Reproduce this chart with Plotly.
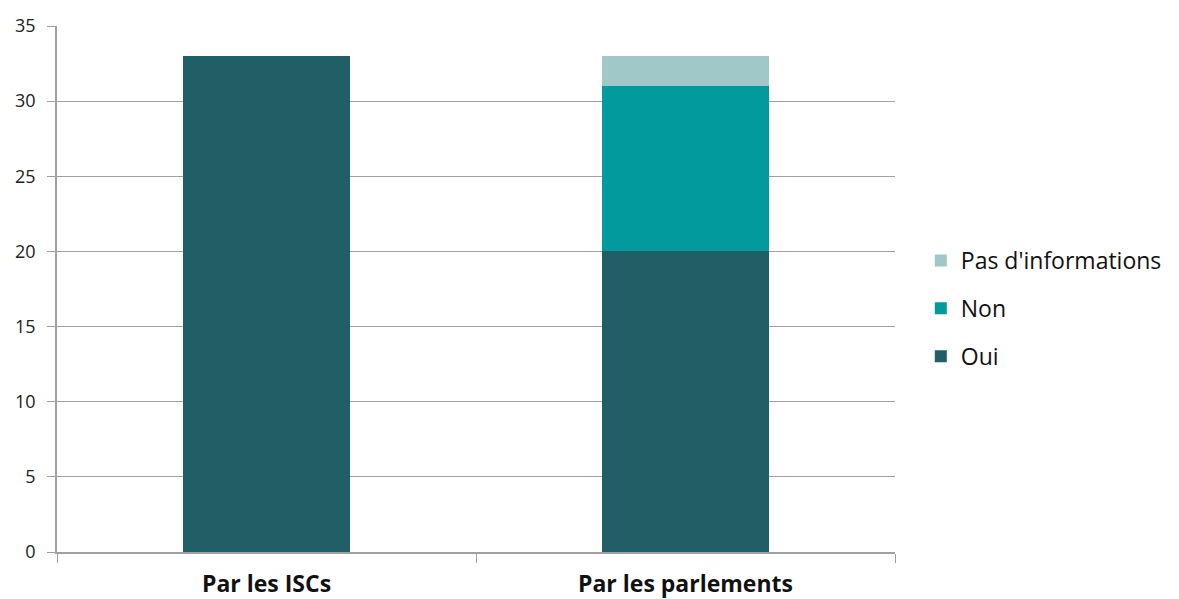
import plotly.graph_objects as go

categories = ["Par les ISCs", "Par les parlements"]
oui = [33, 20]
non = [0, 11]
pas_info = [0, 2]
y_ticks = [0, 5, 10, 15, 20, 25, 30, 35]

FONT = "Open Sans"
fig = go.Figure()
fig.add_trace(go.Bar(x=categories, y=oui, name="Oui", marker_color="#215F66",
                     marker_line_width=0, legendgroup="a", legendrank=3))
fig.add_trace(go.Bar(x=categories, y=non, name="Non", marker_color="#029A9C",
                     marker_line_width=0, legendgroup="b", legendrank=2))
fig.add_trace(go.Bar(x=categories, y=pas_info, name="Pas d'informations", marker_color="#A1C8C8",
                     marker_line_width=0, legendgroup="c", legendrank=1))

fig.update_layout(
    width=1179, height=599,
    margin=dict(l=57, r=284, t=26, b=47),
    barmode="stack", bargap=0.6,
    plot_bgcolor="white", paper_bgcolor="white",
    font=dict(family=FONT, color="#222222"),
    legend=dict(xref="container", yref="container", x=0.781, y=0.485,
                xanchor="left", yanchor="middle",
                traceorder="grouped", tracegroupgap=15,
                font=dict(size=23, family=FONT, color="#111111")),
    xaxis=dict(showline=True, linecolor="#A0A0A0", linewidth=1.5, automargin=False,
               ticks="outside", tickson="boundaries", ticklen=9, tickcolor="#A0A0A0",
               tickfont=dict(size=23, family=FONT, color="#111111", weight="bold"),
               ticklabelstandoff=11),
    yaxis=dict(range=[0, 35], tickvals=y_ticks, showline=True, linecolor="#A0A0A0", linewidth=1.5,
               showgrid=True, gridcolor="#A0A0A0", gridwidth=1.2, automargin=False,
               ticks="outside", ticklen=8, tickcolor="#A0A0A0",
               tickfont=dict(size=18, family=FONT, color="#222222"),
               ticklabelstandoff=8, zeroline=False),
)
fig.write_html("out.html")
